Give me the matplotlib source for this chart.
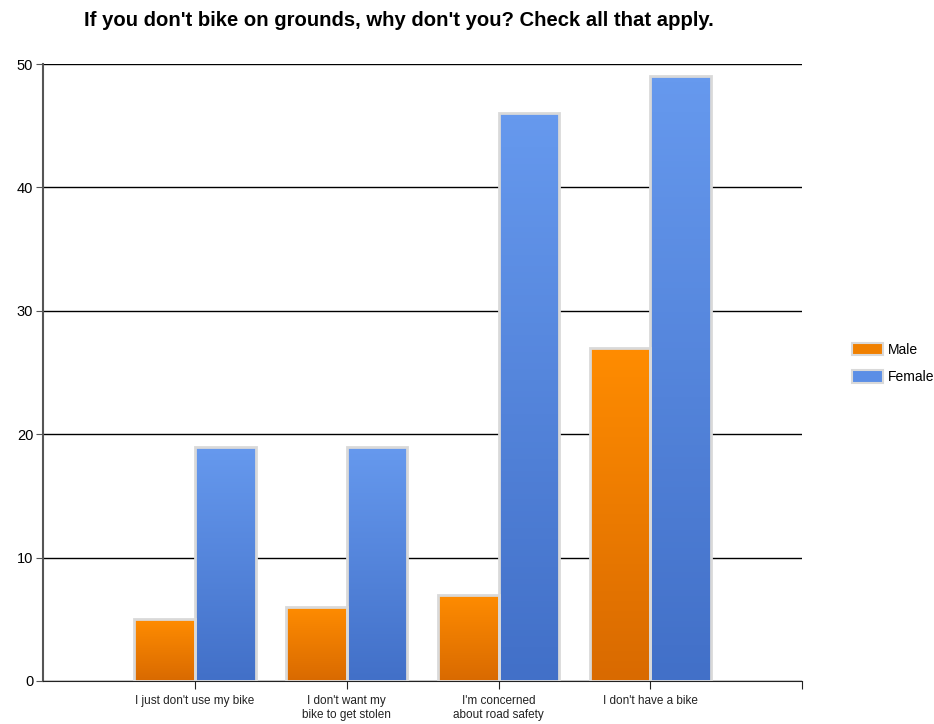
import matplotlib
matplotlib.use('Agg')
import matplotlib.pyplot as plt
import matplotlib.colors as mcolors
from matplotlib.patches import Patch
import numpy as np

plt.rcParams['font.family'] = ['Liberation Sans', 'DejaVu Sans']

categories = ["I just don't use my bike", "I don't want my\nbike to get stolen",
              "I'm concerned\nabout road safety", "I don't have a bike"]
male = [5, 6, 7, 27]
female = [19, 19, 46, 49]

fig = plt.figure(figsize=(9.34, 7.24), dpi=100)
ax = fig.add_axes([0.046, 0.0594, 0.813, 0.8522])

x = np.arange(1, len(categories) + 1)
w = 0.4

def grad_bars(bars, top, bottom):
    cmap = mcolors.LinearSegmentedColormap.from_list('g', [bottom, top])
    for b in bars:
        x0, y0 = b.get_x(), b.get_y()
        bw, bh = b.get_width(), b.get_height()
        im = ax.imshow(np.linspace(0, 1, 100).reshape(-1, 1), cmap=cmap,
                       extent=[x0, x0 + bw, y0, y0 + bh], origin='lower',
                       aspect='auto', zorder=3)
        im.set_clip_path(b)
        b.set_facecolor('none')

bm = ax.bar(x - w / 2, male, w, edgecolor='#d9d9d9', linewidth=2, zorder=4, label='Male')
bf = ax.bar(x + w / 2, female, w, edgecolor='#d9d9d9', linewidth=2, zorder=4, label='Female')
grad_bars(bm, '#ff8c00', '#d96a00')
grad_bars(bf, '#6699ee', '#4270c8')

ax.set_xlim(0, 5)
ax.set_ylim(0, 50)
ax.set_yticks(range(0, 51, 10))
ax.set_xticks(list(x) + [5])
ax.set_xticklabels(categories + [''], fontsize=8.5, color='#222222')
ax.tick_params(axis='y', labelsize=10.5, length=5, color='#555555', pad=2)
ax.tick_params(axis='x', length=6, color='#222222', pad=4)
ax.yaxis.grid(True, color='black', linewidth=1)
ax.set_axisbelow(True)
for s in ['top', 'right']:
    ax.spines[s].set_visible(False)
ax.spines['left'].set_color('#555555')
ax.spines['left'].set_linewidth(1.5)
ax.spines['bottom'].set_color('#222222')

handles = [Patch(facecolor='#f08000', edgecolor='#d9d9d9', linewidth=1.5),
           Patch(facecolor='#5b8ee6', edgecolor='#d9d9d9', linewidth=1.5)]
fig.legend(handles, ['Male', 'Female'], loc='center left', bbox_to_anchor=(0.905, 0.498),
           frameon=False, fontsize=10, handlelength=2.2, handleheight=1.0,
           handletextpad=0.4, labelspacing=1.0, borderpad=0)

fig.text(0.427, 0.972, "If you don't bike on grounds, why don't you? Check all that apply.",
         fontsize=14.6, fontweight='bold', ha='center', va='center')

fig.savefig('out.png', dpi=100)
